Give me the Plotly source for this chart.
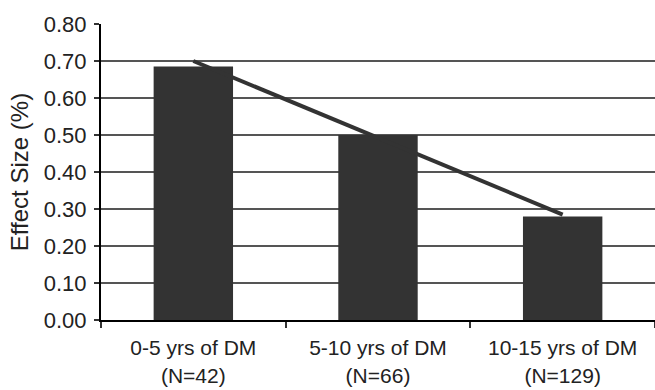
import plotly.graph_objects as go

categories = ["0-5 yrs of DM<br>(N=42)", "5-10 yrs of DM<br>(N=66)", "10-15 yrs of DM<br>(N=129)"]
effect_size = [0.685, 0.50, 0.28]
trend_categories = [categories[0], categories[2]]
trend_values = [0.70, 0.285]
y_ticks = [0.0, 0.1, 0.2, 0.3, 0.4, 0.5, 0.6, 0.7, 0.8]
y_tick_labels = ["0.00", "0.10", "0.20", "0.30", "0.40", "0.50", "0.60", "0.70", "0.80"]

font_family = "Liberation Sans, Arial, sans-serif"

fig = go.Figure()
fig.add_trace(go.Bar(x=categories, y=effect_size, marker=dict(color="#333333", line=dict(width=0)),
                     showlegend=False, hoverinfo="skip"))
fig.add_trace(go.Scatter(x=trend_categories, y=trend_values, mode="lines",
                         line=dict(color="#333333", width=4), showlegend=False, hoverinfo="skip"))

fig.update_layout(
    width=655, height=390,
    margin=dict(l=101, r=0, t=24, b=70),
    paper_bgcolor="white", plot_bgcolor="white",
    bargap=0.57,
    font=dict(family=font_family, size=20, color="#222222"),
)
fig.update_xaxes(
    showline=True, linecolor="black", linewidth=2,
    ticks="outside", tickson="boundaries", ticklen=6, tickwidth=1.5, tickcolor="#333",
    showgrid=False, tickfont=dict(size=21), automargin=False, ticklabelstandoff=8,
)
fig.update_yaxes(
    range=[0, 0.8], tickvals=y_ticks, ticktext=y_tick_labels,
    showline=True, linecolor="black", linewidth=2,
    ticks="outside", ticklen=5, tickwidth=1.5, tickcolor="#333",
    showgrid=True, gridcolor="#555555", gridwidth=1.5,
    tickfont=dict(size=22), ticklabelstandoff=3,
    title=dict(text="Effect Size (%)", font=dict(size=24), standoff=8),
    zeroline=False, automargin=False,
)
fig.write_html("out.html", config={"displayModeBar": False},
               post_script="document.body.style.margin='0';document.body.style.overflow='hidden';")
